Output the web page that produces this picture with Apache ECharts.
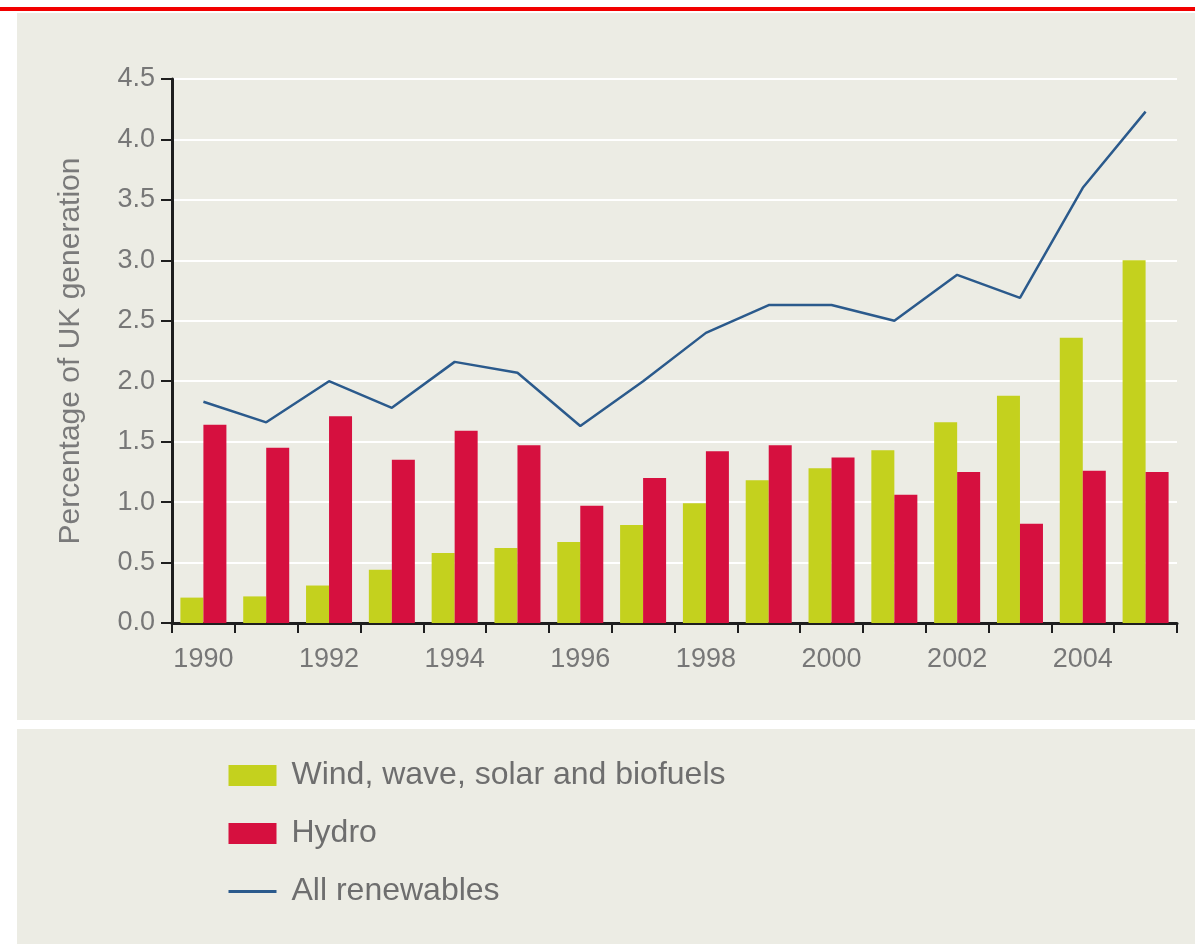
<!DOCTYPE html>
<html><head><meta charset="utf-8">
<script src="https://cdn.jsdelivr.net/npm/echarts@6/dist/echarts.min.js"></script>
<style>
html,body{margin:0;padding:0;background:#fff;width:1195px;height:944px;overflow:hidden;}
#redline{position:absolute;left:0;top:7px;width:1195px;height:4px;background:#f20000;}
#panel1{position:absolute;left:17px;top:13px;width:1178px;height:707px;background:#ecece4;}
#panel2{position:absolute;left:17px;top:729px;width:1178px;height:215px;background:#ecece4;}
#chart{position:absolute;left:0;top:0;width:1195px;height:944px;}
</style></head><body>
<div id="redline"></div><div id="panel1"></div><div id="panel2"></div>
<div id="chart"></div>
<script>
var years = ['1990','1991','1992','1993','1994','1995','1996','1997','1998','1999','2000','2001','2002','2003','2004','2005'];
var windWave = [0.21,0.22,0.31,0.44,0.58,0.62,0.67,0.81,0.99,1.18,1.28,1.43,1.66,1.88,2.36,3.00];
var hydro = [1.64,1.45,1.71,1.35,1.59,1.47,0.97,1.20,1.42,1.47,1.37,1.06,1.25,0.82,1.26,1.25];
var allRenew = [1.83,1.66,2.00,1.78,2.16,2.07,1.63,2.00,2.40,2.63,2.63,2.50,2.88,2.69,3.60,4.23];
var seriesNames = ['Wind, wave, solar and biofuels','Hydro','All renewables'];
var yAxisName = 'Percentage of UK generation';

var font = '"Liberation Sans", Arial, sans-serif';
var chart = echarts.init(document.getElementById('chart'), null, {renderer:'canvas'});
chart.setOption({
  animation:false,
  backgroundColor:'transparent',
  grid:{left:172, right:18, top:79, bottom:321, containLabel:false},
  legend:{
    orient:'vertical', left:222, top:752,
    itemWidth:48, itemHeight:21, itemGap:21,
    data:[
      {name:seriesNames[0], icon:'rect'},
      {name:seriesNames[1], icon:'rect'},
      {name:seriesNames[2], itemStyle:{opacity:0}, lineStyle:{width:3, color:'#2b5a8c'}}
    ],
    textStyle:{fontFamily:font, fontSize:32, color:'#6e6e6e', lineHeight:37, padding:[0,0,0,10]}
  },
  xAxis:{
    type:'category', data:years, boundaryGap:true,
    axisLine:{show:true, lineStyle:{color:'#1e1e1e', width:3}},
    axisTick:{show:true, interval:0, length:10, lineStyle:{color:'#1e1e1e', width:2}},
    axisLabel:{interval:1, margin:23, fontFamily:font, fontSize:27, color:'#777777'},
    splitLine:{show:false}
  },
  yAxis:{
    type:'value', min:0, max:4.5, interval:0.5,
    name:yAxisName, nameLocation:'middle', nameRotate:90, nameGap:86,
    nameTextStyle:{fontFamily:font, fontSize:30, color:'#7a7a7a'},
    axisLine:{show:true, lineStyle:{color:'#1e1e1e', width:3}},
    axisTick:{show:true, length:11, lineStyle:{color:'#1e1e1e', width:2}},
    axisLabel:{margin:17, fontFamily:font, fontSize:27, color:'#777777', formatter:function(v){return v.toFixed(1);}},
    splitLine:{show:true, lineStyle:{color:'#ffffff', width:2}}
  },
  series:[
    {name:seriesNames[0], type:'bar', data:windWave, barWidth:23, barGap:'0%', itemStyle:{color:'#c4d11e'}},
    {name:seriesNames[1], type:'bar', data:hydro, barWidth:23, barGap:'0%', itemStyle:{color:'#d6103f'}},
    {name:seriesNames[2], type:'line', data:allRenew, symbol:'none', showSymbol:false, lineStyle:{color:'#2b5a8c', width:2.5}, itemStyle:{color:'#2b5a8c'}, z:5}
  ]
});
</script>
</body></html>
